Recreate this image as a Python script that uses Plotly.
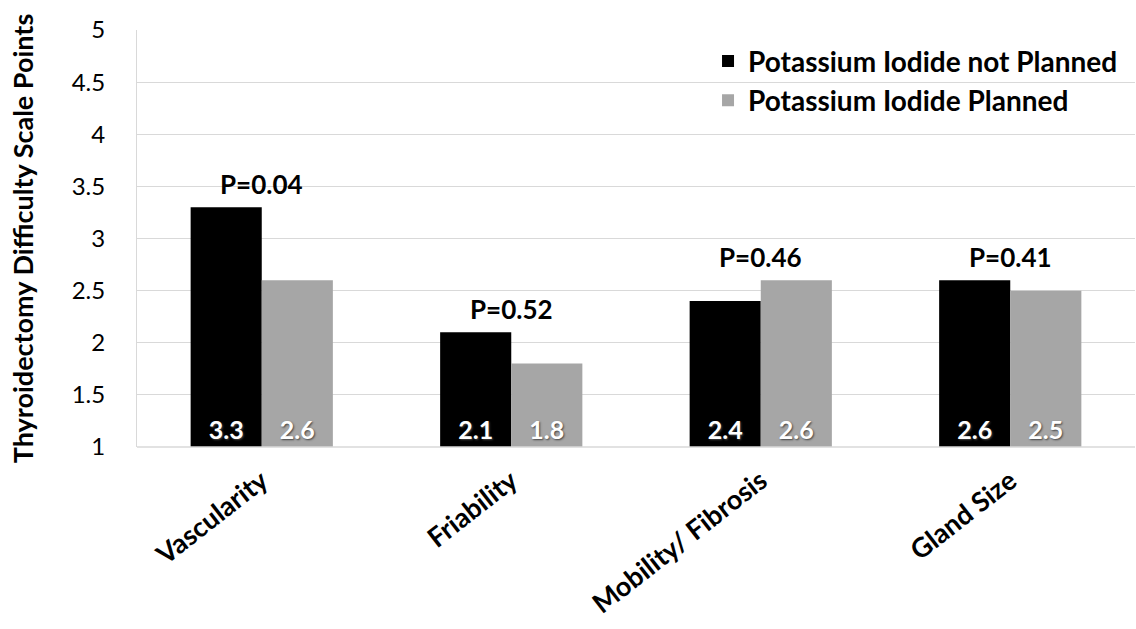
import plotly.graph_objects as go

categories = ["Vascularity", "Friability", "Mobility/ Fibrosis", "Gland Size"]
not_planned = [3.3, 2.1, 2.4, 2.6]
planned = [2.6, 1.8, 2.6, 2.5]
p_values = ["P=0.04", "P=0.52", "P=0.46", "P=0.41"]
series_names = ["Potassium Iodide not Planned", "Potassium Iodide Planned"]
y_ticks = [1, 1.5, 2, 2.5, 3, 3.5, 4, 4.5, 5]
y_min = 1

FONT = "Lato"

fig = go.Figure()
for name, vals, color in [(series_names[0], not_planned, "#000000"),
                          (series_names[1], planned, "#a6a6a6")]:
    fig.add_trace(go.Bar(
        name=name,
        x=categories,
        y=[v - y_min for v in vals],
        base=y_min,
        marker=dict(color=color, line=dict(width=0)),
        text=[f"{v:.1f}" for v in vals],
        textposition="inside",
        insidetextanchor="start",
        textangle=0,
        constraintext="none",
        insidetextfont=dict(family=FONT, size=25, color="white", weight="bold",
                            shadow="1px 1px 2px #444"),
        hovertemplate="%{x}: %{text}<extra>" + name + "</extra>",
    ))

for cat, a, b, p in zip(categories, not_planned, planned, p_values):
    fig.add_annotation(x=cat, y=max(a, b), text=p, showarrow=False,
                       yanchor="bottom", yshift=5,
                       font=dict(family=FONT, size=26, color="black", weight="bold"))

fig.update_layout(
    width=1136, height=629,
    margin=dict(l=137, r=1, t=30, b=182),
    paper_bgcolor="white", plot_bgcolor="white",
    barmode="group", bargap=0.43, bargroupgap=0,
    font=dict(family=FONT, color="black"),
    legend=dict(x=0.988, y=0.985, xanchor="right", yanchor="top",
                font=dict(family=FONT, size=28, color="black", weight="bold"),
                bgcolor="rgba(255,255,255,0)", tracegroupgap=0,
                traceorder="normal"),
    showlegend=True,
)
fig.update_xaxes(tickangle=-38, showgrid=False, showline=False, ticks="",
                 ticklabelstandoff=12, automargin=False,
                 tickfont=dict(family=FONT, size=27, color="black", weight="bold"))
fig.update_yaxes(range=[1, 5], tickvals=y_ticks, ticktext=[f"{t:g}" for t in y_ticks],
                 showgrid=True, gridcolor="#d9d9d9", gridwidth=1,
                 showline=True, linecolor="#d9d9d9", zeroline=False, ticks="",
                 automargin=False,
                 tickfont=dict(family=FONT, size=24, color="black"),
                 ticklabelstandoff=26,
                 title=dict(text="Thyroidectomy Difficulty Scale Points", standoff=30,
                            font=dict(family=FONT, size=27, color="black", weight="bold")))
# bottom baseline
fig.add_shape(type="line", xref="paper", yref="paper", x0=0, x1=1, y0=0, y1=0,
              line=dict(color="#d9d9d9", width=1.5))

fig.write_html("out.html", config={"displayModeBar": False},
               post_script="document.body.style.margin='0';")
